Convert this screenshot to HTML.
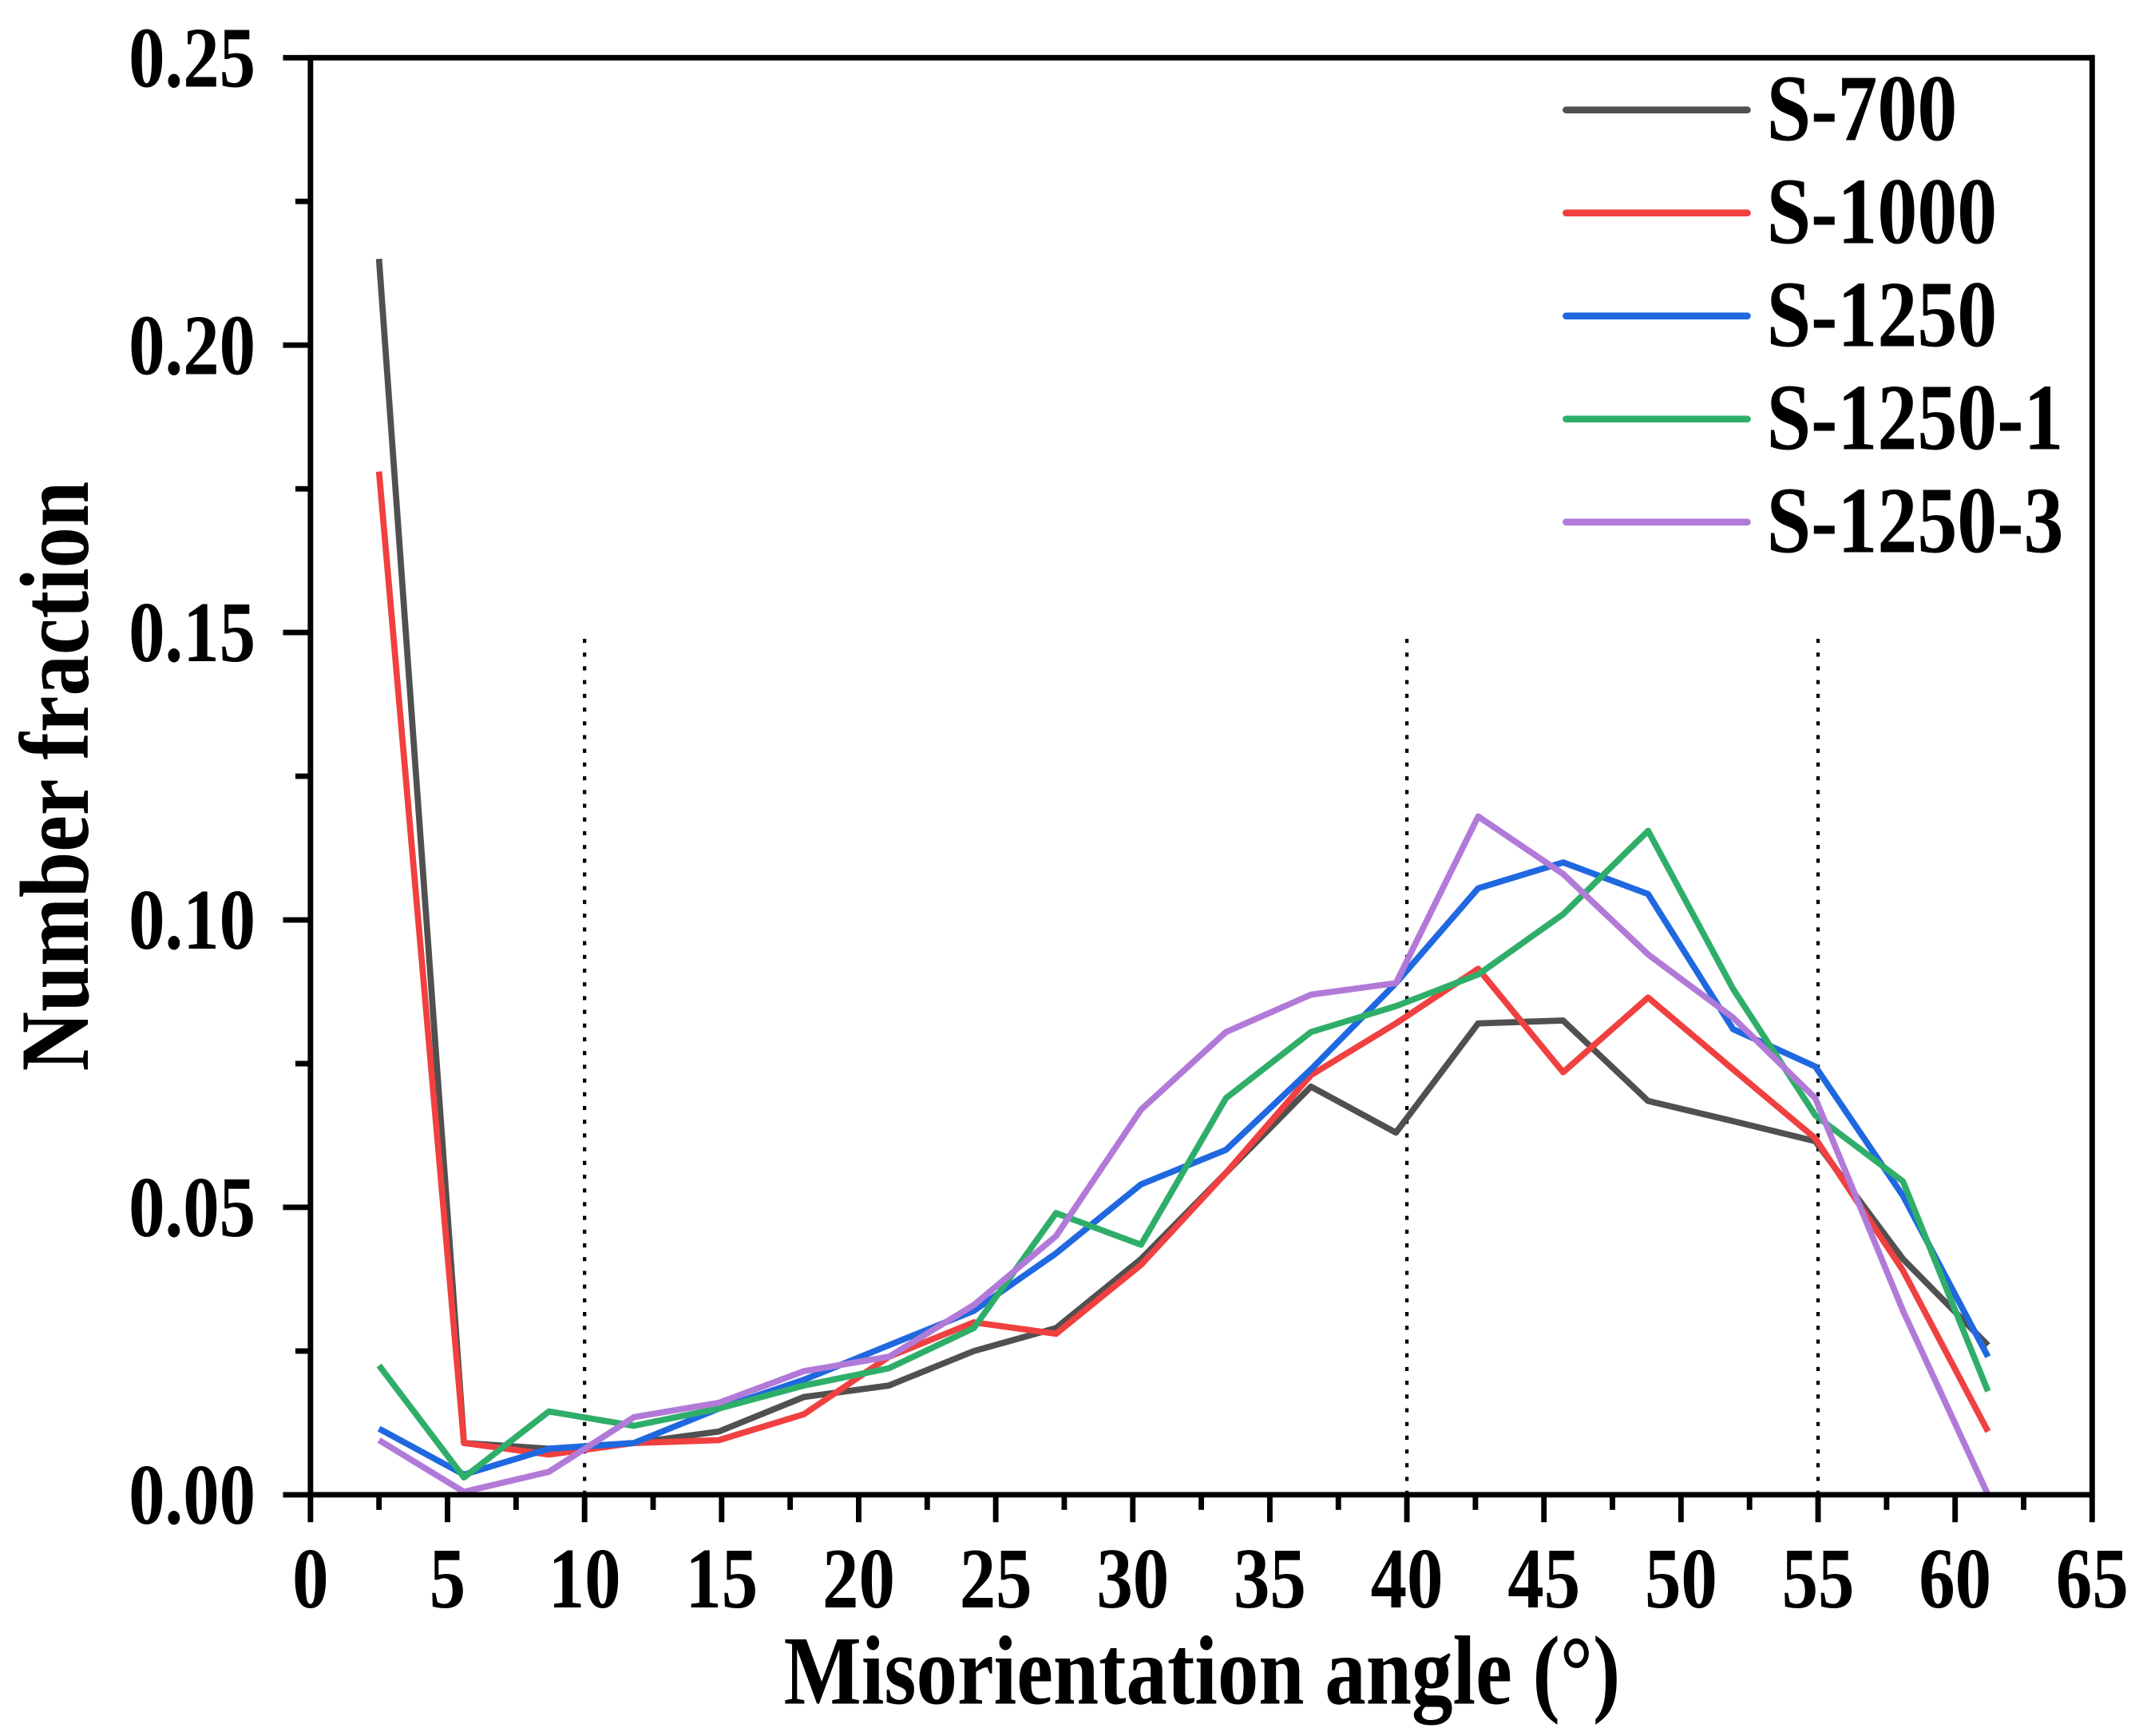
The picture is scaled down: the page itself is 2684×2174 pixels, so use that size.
<!DOCTYPE html>
<html><head><meta charset="utf-8"><style>html,body{margin:0;padding:0;background:#fff}svg{display:block}</style></head>
<body>
<svg id="chart" width="2684" height="2174" viewBox="0 0 1560 1263.6" xmlns="http://www.w3.org/2000/svg" font-family="'Liberation Serif', serif" font-weight="bold">
<g id="grid"></g>
<g id="series"></g>
<g id="axes"></g>
<g id="legend"></g>
<text transform="translate(875,1240) scale(0.88,1.05)" font-size="68" text-anchor="middle">Misorientation angle (°)</text>
<text transform="translate(64,565) rotate(-90) scale(0.88,1.05)" font-size="68" text-anchor="middle">Number fraction</text>
</svg>
<script>
const angles=[2.5,5.6,8.7,11.8,14.9,18.0,21.1,24.2,27.2,30.3,33.4,36.5,39.6,42.6,45.7,48.8,51.9,54.9,58.1,61.2];
const seriesNames=["S-700","S-1000","S-1250","S-1250-1","S-1250-3"];
const s700=[0.215,0.009,0.008,0.009,0.011,0.017,0.019,0.025,0.029,0.041,0.056,0.071,0.063,0.082,0.0825,0.0685,0.065,0.0615,0.041,0.026];
const s1000=[0.178,0.009,0.007,0.009,0.0095,0.014,0.024,0.030,0.028,0.040,0.056,0.073,0.082,0.0915,0.0735,0.0865,0.074,0.062,0.039,0.011];
const s1250=[0.0115,0.0035,0.008,0.009,0.015,0.020,0.026,0.032,0.042,0.054,0.060,0.074,0.089,0.1055,0.110,0.1045,0.081,0.0745,0.052,0.024];
const s1250_1=[0.0225,0.003,0.0145,0.012,0.015,0.019,0.022,0.029,0.049,0.0435,0.069,0.0805,0.085,0.0905,0.101,0.1155,0.088,0.066,0.0545,0.018];
const s1250_3=[0.0095,0.0005,0.004,0.0135,0.016,0.0215,0.024,0.033,0.045,0.067,0.0805,0.087,0.089,0.118,0.108,0.094,0.083,0.069,0.032,0.0];
const xTicks=[0,5,10,15,20,25,30,35,40,45,50,55,60,65];
const yTicks=[0,0.05,0.10,0.15,0.20,0.25];
const yTickLabels=["0.00","0.05","0.10","0.15","0.20","0.25"];
const refAngles=[10,40,55];
const refTop=0.15;

const NS="http://www.w3.org/2000/svg";
const L=226,R=1523,T=42,B=1088;
const xs=v=>L+(v-0)/(65-0)*(R-L);
const ys=v=>B-(v-0)/(0.25-0)*(B-T);
function mk(tag,attrs,parent){const e=document.createElementNS(NS,tag);for(const k in attrs)e.setAttribute(k,attrs[k]);parent.appendChild(e);return e;}
const colors=["#505050","#f04040","#1f68e0","#2fae6a","#b27ad8"];
const data=[s700,s1000,s1250,s1250_1,s1250_3];

const grid=document.getElementById('grid');
refAngles.forEach(a=>{
  const l=mk('line',{x1:xs(a),x2:xs(a),y1:ys(0),y2:ys(refTop),stroke:'#000','stroke-width':2.5,'stroke-dasharray':'3,7'},grid);
  
  
});

const sg=document.getElementById('series');
data.forEach((d,i)=>{
  const p=mk('polyline',{points:d.map((v,j)=>xs(angles[j])+','+ys(v)).join(' '),fill:'none',stroke:colors[i],'stroke-width':4.5,'stroke-linejoin':'round'},sg);
  
  
});

const ax=document.getElementById('axes');
const frame=mk('rect',{x:L,y:T,width:R-L,height:B-T,fill:'none',stroke:'#000','stroke-width':4},ax);


xTicks.forEach(t=>{
  mk('line',{x1:xs(t),x2:xs(t),y1:B,y2:B+20,stroke:'#000','stroke-width':4},ax);
  if(65>t) mk('line',{x1:xs(t+2.5),x2:xs(t+2.5),y1:B,y2:B+11,stroke:'#000','stroke-width':4},ax);
  const tx=mk('text',{transform:'translate('+xs(t)+',1170) scale(0.88,1.05)','font-size':60,'text-anchor':'middle'},ax);
  tx.textContent=t;
  
  
});
yTicks.forEach((t,i)=>{
  mk('line',{x1:L-20,x2:L,y1:ys(t),y2:ys(t),stroke:'#000','stroke-width':4},ax);
  if(yTicks.length-1>i) mk('line',{x1:L-11,x2:L,y1:ys(t+0.025),y2:ys(t+0.025),stroke:'#000','stroke-width':4},ax);
  const tx=mk('text',{transform:'translate(186,'+(ys(t)+21)+') scale(0.88,1.05)','font-size':60,'text-anchor':'end'},ax);
  tx.textContent=yTickLabels[i];
  
  
});

const lg=document.getElementById('legend');
seriesNames.forEach((n,i)=>{
  const y=80+i*75;
  const ln=mk('line',{x1:1140,x2:1272,y1:y,y2:y,stroke:colors[i],'stroke-width':5,'stroke-linecap':'round'},lg);
  
  
  const tx=mk('text',{transform:'translate(1286,'+(y+22)+') scale(0.88,1.05)','font-size':66},lg);
  tx.textContent=n;
  
  
});
</script>
</body></html>
